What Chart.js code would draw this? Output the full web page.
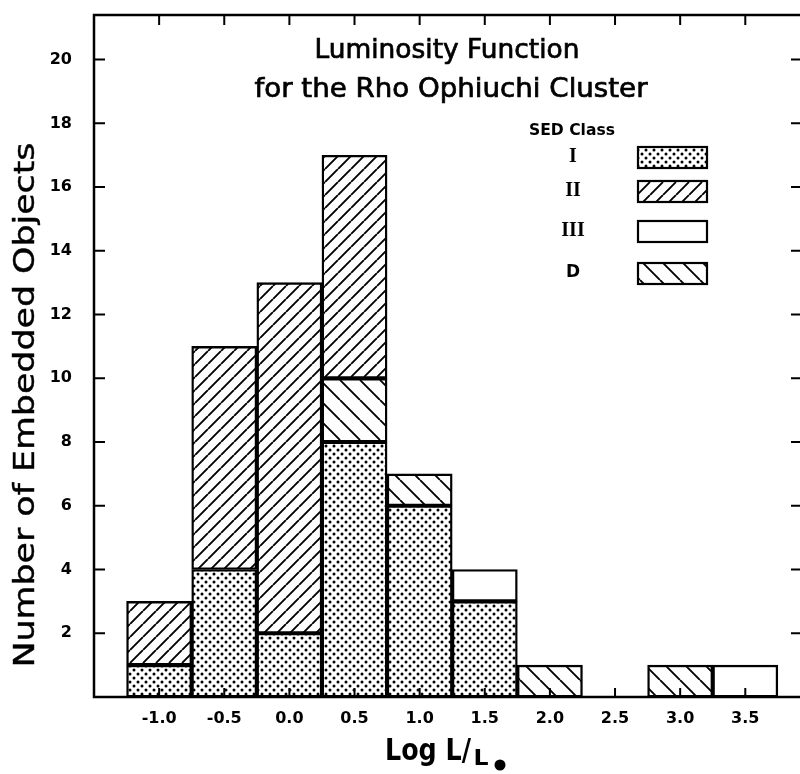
<!DOCTYPE html>
<html lang="en">
<head>
<meta charset="UTF-8">
<title>Luminosity Function for the Rho Ophiuchi Cluster</title>
<script src="https://cdn.jsdelivr.net/npm/chart.js"></script>
<style>
  html, body { margin: 0; padding: 0; background: #fff; }
  #wrap { width: 800px; height: 774px; }
</style>
</head>
<body>
<div id="wrap"><canvas id="lumChart"></canvas></div>
<script>
// bin centres, log L/Lsun
const bins = [-1.0, -0.5, 0.0, 0.5, 1.0, 1.5, 2.0, 2.5, 3.0, 3.5];
const binLabels = ["-1.0", "-0.5", "0.0", "0.5", "1.0", "1.5", "2.0", "2.5", "3.0", "3.5"];
const yTicks = [2, 4, 6, 8, 10, 12, 14, 16, 18, 20];

// number of objects per SED class (stacked bottom to top: I, D, III, II)
const classI   = [1, 4, 2, 8, 6, 3, 0, 0, 0, 0];
const classD   = [0, 0, 0, 2, 1, 0, 1, 0, 1, 0];
const classIII = [0, 0, 0, 0, 0, 1, 0, 0, 0, 1];
const classII  = [2, 7, 11, 7, 0, 0, 0, 0, 0, 0];

const legendOrder = ["I", "II", "III", "D"];

function makePattern(kind) {
    const c = document.createElement("canvas");
    const g = c.getContext("2d");
    let s = 8;
    if (kind === "fwd") s = 13;
    if (kind === "back") s = 20;
    c.width = s; c.height = s;
    g.fillStyle = "#fff";
    g.fillRect(0, 0, s, s);
    g.fillStyle = "#000";
    g.strokeStyle = "#000";
    if (kind === "dots") {
        g.beginPath();
        g.arc(2, 2, 1.5, 0, Math.PI * 2);
        g.moveTo(7.5, 6);
        g.arc(6, 6, 1.5, 0, Math.PI * 2);
        g.fill();
    } else if (kind === "fwd") {
        g.lineWidth = 1.9;
        g.beginPath();
        for (let k = -1; k <= 1; k++) { g.moveTo(k * s, s); g.lineTo(k * s + s, 0); }
        g.stroke();
    } else if (kind === "back") {
        g.lineWidth = 1.9;
        g.beginPath();
        for (let k = -1; k <= 1; k++) { g.moveTo(k * s, 0); g.lineTo(k * s + s, s); }
        g.stroke();
    }
    return g.createPattern(c, "repeat");
}

const fills = {
    I: makePattern("dots"),
    II: makePattern("fwd"),
    III: "#fff",
    D: makePattern("back")
};

function series(vals) {
    return bins.map((b, i) => vals[i] ? { x: b, y: vals[i] } : null).filter(p => p);
}

function barSet(name, vals) {
    return {
        label: name,
        data: series(vals),
        backgroundColor: fills[name],
        borderColor: "#000",
        borderWidth: 2.4,
        borderSkipped: false
    };
}

// draw centred text squeezed/stretched to a given width
function fitText(ctx, text, cx, cy, width, bold) {
    const w = ctx.measureText(text).width;
    ctx.save();
    ctx.translate(cx, cy);
    ctx.scale(width / w, 1);
    ctx.fillText(text, 0, 0);
    if (bold) {
        ctx.lineWidth = bold;
        ctx.strokeText(text, 0, 0);
    }
    ctx.restore();
}

const decorations = {
    id: "decorations",
    afterDatasetsDraw(chart) {
        const { ctx, chartArea: a, scales: { x, y } } = chart;
        const edge = chart.width + 2;   // right side of the frame falls off the page
        ctx.save();
        ctx.strokeStyle = "#000";
        ctx.lineWidth = 2.5;
        ctx.beginPath();
        ctx.moveTo(edge, a.top);
        ctx.lineTo(a.left, a.top);
        ctx.lineTo(a.left, a.bottom);
        ctx.lineTo(edge, a.bottom);
        ctx.stroke();
        ctx.lineWidth = 2;
        ctx.beginPath();
        bins.forEach(v => {
            const px = x.getPixelForValue(v);
            ctx.moveTo(px, a.top); ctx.lineTo(px, a.top + 10);
            ctx.moveTo(px, a.bottom); ctx.lineTo(px, a.bottom - 9);
        });
        yTicks.forEach(v => {
            const py = y.getPixelForValue(v);
            ctx.moveTo(a.left, py); ctx.lineTo(a.left + 11, py);
            ctx.moveTo(chart.width, py); ctx.lineTo(chart.width - 9, py);
        });
        ctx.stroke();

        ctx.fillStyle = "#000";
        ctx.strokeStyle = "#000";
        ctx.textAlign = "center";
        ctx.textBaseline = "middle";

        // title inside the plot
        ctx.font = "26px 'DejaVu Sans'";
        fitText(ctx, "Luminosity Function", 447, 51, 265, 0.7);
        fitText(ctx, "for the Rho Ophiuchi Cluster", 451, 90, 393, 0.7);

        // y axis title
        ctx.save();
        ctx.translate(27, 405);
        ctx.rotate(-Math.PI / 2);
        ctx.font = "28px 'DejaVu Sans'";
        fitText(ctx, "Number of Embedded Objects", 0, 0, 525, 0.4);
        ctx.restore();

        // x axis title: Log L/L(sun)
        ctx.textBaseline = "alphabetic";
        ctx.font = "bold 30px 'DejaVu Sans'";
        fitText(ctx, "Log L/", 428, 760, 86);
        ctx.font = "bold 21px 'DejaVu Sans'";
        fitText(ctx, "L", 481, 765, 15);
        ctx.beginPath();
        ctx.arc(500, 765, 5.5, 0, Math.PI * 2);
        ctx.fill();

        // legend
        ctx.textBaseline = "middle";
        ctx.font = "bold 15px 'DejaVu Sans'";
        fitText(ctx, "SED Class", 572, 131, 86);
        const rowY = [157, 191, 231, 273];
        legendOrder.forEach((name, i) => {
            ctx.font = name === "D" ? "bold 17px 'DejaVu Sans'" : "bold 20px 'Liberation Serif'";
            ctx.fillText(name, 573, rowY[i]);
            ctx.fillStyle = fills[name];
            ctx.fillRect(638, rowY[i] - 10, 69, 21);
            ctx.fillStyle = "#000";
            ctx.lineWidth = 2.2;
            ctx.strokeRect(638, rowY[i] - 10, 69, 21);
        });
        ctx.restore();
    }
};

const chart = new Chart(document.getElementById("lumChart"), {
    type: "bar",
    data: {
        datasets: [
            barSet("I", classI),
            barSet("D", classD),
            barSet("III", classIII),
            barSet("II", classII)
        ]
    },
    options: {
        responsive: true,
        maintainAspectRatio: false,
        animation: false,
        layout: { padding: { top: 15, right: 0, left: 0, bottom: 0 } },
        datasets: { bar: { barPercentage: 1, categoryPercentage: 1 } },
        plugins: { legend: { display: false }, tooltip: { enabled: false } },
        scales: {
            x: {
                type: "linear",
                stacked: true,
                offset: false,
                min: -1.5,
                max: 3.92,
                afterBuildTicks: s => { s.ticks = bins.map(v => ({ value: v })); },
                afterFit: s => { s.height = 77; s.paddingLeft = 0; s.paddingRight = 0; },
                grid: { display: false, drawTicks: false },
                border: { display: false },
                ticks: {
                    autoSkip: false,
                    maxRotation: 0,
                    padding: 12,
                    color: "#000",
                    font: { family: "DejaVu Sans", weight: "bold", size: 16 },
                    callback: (v, i) => binLabels[i]
                }
            },
            y: {
                stacked: true,
                min: 0,
                max: 21.4,
                afterBuildTicks: s => { s.ticks = yTicks.map(v => ({ value: v })); },
                afterFit: s => { s.width = 94; s.paddingTop = 0; s.paddingBottom = 0; },
                grid: { display: false, drawTicks: false },
                border: { display: false },
                ticks: {
                    padding: 22,
                    color: "#000",
                    font: { family: "DejaVu Sans", weight: "bold", size: 16 }
                }
            }
        }
    },
    plugins: [decorations]
});
</script>
</body>
</html>
